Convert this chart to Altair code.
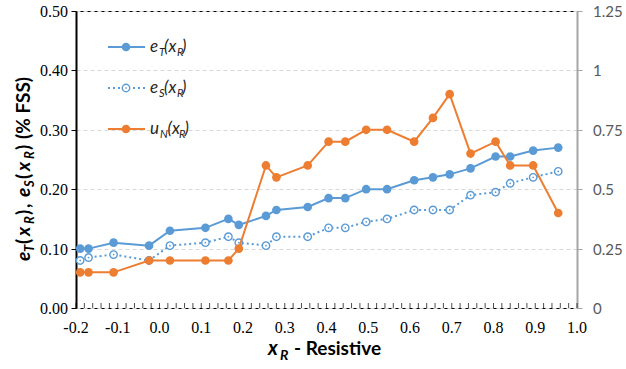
import altair as alt
import pandas as pd

# ---- data ----
x_r = [-0.19, -0.17, -0.11, -0.025, 0.025, 0.11, 0.165, 0.19, 0.255, 0.28, 0.355,
       0.405, 0.445, 0.495, 0.545, 0.61, 0.655, 0.695, 0.745, 0.805, 0.84, 0.895, 0.955]
e_t = [0.10, 0.10, 0.11, 0.105, 0.13, 0.135, 0.15, 0.14, 0.155, 0.165, 0.17,
       0.185, 0.185, 0.20, 0.20, 0.215, 0.22, 0.225, 0.235, 0.255, 0.255, 0.265, 0.27]
e_s = [0.08, 0.085, 0.09, 0.08, 0.105, 0.11, 0.12, 0.11, 0.105, 0.12, 0.12,
       0.135, 0.135, 0.145, 0.15, 0.165, 0.165, 0.165, 0.19, 0.195, 0.21, 0.22, 0.23]
u_n = [0.15, 0.15, 0.15, 0.20, 0.20, 0.20, 0.20, 0.25, 0.60, 0.55, 0.60,
       0.70, 0.70, 0.75, 0.75, 0.70, 0.80, 0.90, 0.65, 0.70, 0.60, 0.60, 0.40]

x_ticks = [-0.2, -0.1, 0.0, 0.1, 0.2, 0.3, 0.4, 0.5, 0.6, 0.7, 0.8, 0.9, 1.0]
x_labels = ["-0.2", "-0.1", "0.0", "0.1", "0.2", "0.3", "0.4", "0.5", "0.6",
            "0.7", "0.8", "0.9", "1.0"]
x_minor = [round(-0.2 + 0.02 * i, 2) for i in range(61)]
left_ticks = [0.0, 0.1, 0.2, 0.3, 0.4, 0.5]
left_labels = ["0.00", "0.10", "0.20", "0.30", "0.40", "0.50"]
right_ticks = [0.0, 0.25, 0.5, 0.75, 1.0, 1.25]
right_labels = ["0", "0.25", "0.5", "0.75", "1", "1.25"]

BLUE = "#5B9BD5"
ORANGE = "#ED7D31"
SERIF = "Liberation Serif"
L, T = 76, 11          # plot origin on the page
W, H = 501, 297

df = pd.DataFrame({"x": x_r, "eT": e_t, "eS": e_s, "uN": u_n})
ticks_df = pd.DataFrame({"x": x_minor})
xlab_df = pd.DataFrame({"x": x_ticks, "lab": x_labels})
llab_df = pd.DataFrame({"v": left_ticks, "lab": left_labels})
rlab_df = pd.DataFrame({"v": right_ticks, "lab": right_labels})
one = pd.DataFrame({"a": [0]})

xscale = alt.Scale(domain=[-0.2, 1.0], nice=False, zero=False)
xaxis = alt.Axis(values=x_ticks, grid=True, gridColor="#D9D9D9", gridWidth=1,
                 domainColor="black", domainWidth=2, ticks=False, labels=False,
                 title=None)
X = alt.X("x:Q", scale=xscale, axis=xaxis)

lscale = alt.Scale(domain=[0, 0.5], nice=False, zero=True)
laxis = alt.Axis(values=left_ticks, labels=False, grid=True, gridDash=[4, 3],
                 gridColor="#D9D9D9", domainColor="black", domainWidth=2,
                 tickColor="black", tickSize=5, title=None)
rscale = alt.Scale(domain=[0, 1.25], nice=False, zero=True)
raxis = alt.Axis(orient="right", values=right_ticks, labels=False, grid=False,
                 domainColor="#A6A6A6", domainWidth=2, tickColor="#A6A6A6",
                 tickSize=5, title=None)

base = alt.Chart(df)
eT_line = base.mark_line(color=BLUE, strokeWidth=2).encode(
    x=X, y=alt.Y("eT:Q", scale=lscale, axis=laxis))
eT_pts = base.mark_circle(color=BLUE, size=75, opacity=1).encode(
    x=X, y=alt.Y("eT:Q", scale=lscale, axis=laxis))
eS_line = base.mark_line(color=BLUE, strokeWidth=2, strokeDash=[2, 3]).encode(
    x=X, y=alt.Y("eS:Q", scale=lscale, axis=laxis))
eS_pts = base.mark_point(shape="circle", filled=True, fill="white", stroke=BLUE,
                         strokeWidth=1.4, size=55, opacity=1).encode(
    x=X, y=alt.Y("eS:Q", scale=lscale, axis=laxis))
eS_dot = base.mark_circle(color=BLUE, size=3, opacity=1).encode(
    x=X, y=alt.Y("eS:Q", scale=lscale, axis=laxis))
left = alt.layer(eT_line, eT_pts, eS_line, eS_pts, eS_dot)

uN_line = base.mark_line(color=ORANGE, strokeWidth=2).encode(
    x=X, y=alt.Y("uN:Q", scale=rscale, axis=raxis))
uN_pts = base.mark_circle(color=ORANGE, size=75, opacity=1).encode(
    x=X, y=alt.Y("uN:Q", scale=rscale, axis=raxis))
right = alt.layer(uN_line, uN_pts)

minor = alt.Chart(ticks_df).mark_tick(orient="vertical", size=5, thickness=1,
                                      color="black").encode(
    x=X, y=alt.value(H - 2.5))

# tick labels drawn as text through the same scales
xlabs = alt.Chart(xlab_df).mark_text(font=SERIF, fontSize=16, align="center",
                                     baseline="alphabetic", color="black").encode(
    x=alt.X("x:Q", scale=xscale, axis=None), y=alt.value(333 - T), text="lab:N")
llabs = alt.Chart(llab_df).mark_text(font=SERIF, fontSize=16, align="right",
                                     baseline="middle", dy=1, color="black").encode(
    x=alt.value(-8), y=alt.Y("v:Q", scale=lscale, axis=None), text="lab:N")
rlabs = alt.Chart(rlab_df).mark_text(font="Lato", fontSize=15, align="left",
                                     baseline="middle", dy=1, color="#595959").encode(
    x=alt.value(593 - L), y=alt.Y("v:Q", scale=rscale, axis=None), text="lab:N")


def piece(s, sx, sy, size, italic=False, bold=False, angle=0, color="black"):
    mk = dict(align="left", baseline="alphabetic", font="Lato", fontSize=size,
              fontStyle="italic" if italic else "normal",
              fontWeight="bold" if bold else "normal", color=color)
    if angle:
        mk["angle"] = angle
    return alt.Chart(one).mark_text(**mk).encode(
        x=alt.value(sx - L), y=alt.value(sy - T), text=alt.value(s))


deco = [minor, xlabs]

# legend (inside plot, top-left)
rows = [
    (47, BLUE, None, "e", "T", 159, 164, 177, 182),
    (88, BLUE, [2, 3], "e", "S", 159, 164, 177, 182),
    (129, ORANGE, None, "u", "N", 160, 167.5, 179, 184.5),
]
LC = "#262626"
for ly, col, dash, main, sub, sub_x, px, rx, cx in rows:
    rule_kw = dict(color=col, strokeWidth=2)
    if dash:
        rule_kw["strokeDash"] = dash
    deco.append(alt.Chart(one).mark_rule(**rule_kw).encode(
        x=alt.value(108 - L), x2=alt.value(145 - L), y=alt.value(ly - T)))
    if dash:
        deco.append(alt.Chart(one).mark_point(shape="circle", filled=True, fill="white",
                                              stroke=col, strokeWidth=1.4, size=55,
                                              opacity=1).encode(
            x=alt.value(126 - L), y=alt.value(ly - T)))
        deco.append(alt.Chart(one).mark_circle(color=col, size=3, opacity=1).encode(
            x=alt.value(126 - L), y=alt.value(ly - T)))
    else:
        deco.append(alt.Chart(one).mark_circle(color=col, size=75, opacity=1).encode(
            x=alt.value(126 - L), y=alt.value(ly - T)))
    bl = ly + 5
    deco.append(piece(main, 150, bl, 17, italic=True, color=LC))
    deco.append(piece(sub, sub_x, bl + 4, 11, italic=True, color=LC))
    deco.append(piece("(x", px, bl, 17, italic=True, color=LC))
    deco.append(piece("R", rx, bl + 4, 11, italic=True, color=LC))
    deco.append(piece(")", cx, bl, 17, italic=True, color=LC))

# y-axis title, rotated, built from pieces (main baseline x=30, subscripts x=34)
ytitle = [("e", 261, "mi"), ("T", 252, "si"), ("(", 244, "m"), ("x", 236, "mi"),
          ("R", 224, "si"), (")", 215, "m"), (",", 208, "m"), ("e", 197, "mi"),
          ("S", 187, "si"), ("(", 179, "m"), ("x", 171, "mi"), ("R", 159, "si"),
          (")", 150, "m"), ("(% FSS)", 139, "m")]
for s, sy, kind in ytitle:
    if kind.startswith("s"):
        deco.append(piece(s, 34, sy, 13, italic=True, bold=True, angle=270))
    else:
        deco.append(piece(s, 30, sy, 19, italic=(kind == "mi"), bold=True, angle=270))

# x-axis title
deco.append(piece("x", 268, 355, 20, italic=True, bold=True))
deco.append(piece("R", 280, 360, 14, italic=True, bold=True))
deco.append(piece("- Resistive", 294, 355, 19, bold=True))

chart = alt.layer(left, right, llabs, rlabs, *deco).resolve_scale(
    y="independent").properties(
    width=W, height=H,
    padding={"left": L, "top": T, "right": 626 - L - W, "bottom": 369 - T - H},
    autosize=alt.AutoSizeParams(type="none"),
    background="white",
).configure_view(stroke="black", strokeWidth=1)

chart.save("out.html", embed_options={"renderer": "svg", "actions": False})
